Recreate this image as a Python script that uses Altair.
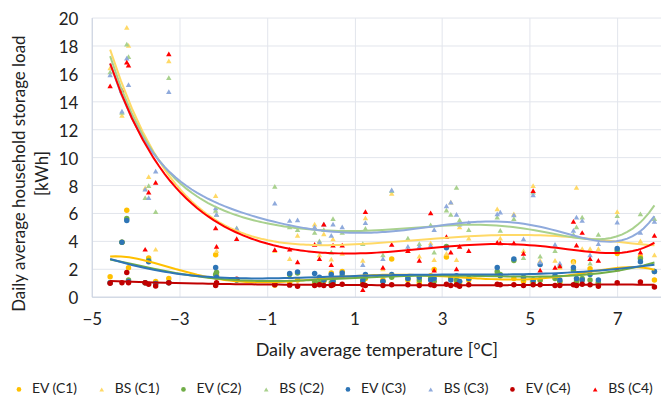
import altair as alt
import pandas as pd

# Daily average temperature of each observed day [°C]
temps = [-4.58, -4.31, -4.20, -4.16, -3.78, -3.70, -3.54, -3.24, -2.17, -2.15,
         -1.69, -0.82, -0.48, -0.30, 0.09, 0.20, 0.30, 0.47, 0.51, 0.72,
         1.19, 1.25, 1.65, 1.85, 2.22, 2.48, 2.74, 2.82, 3.10, 3.20,
         3.33, 3.40, 3.61, 4.26, 4.33, 4.64, 4.86, 5.08, 5.24, 5.58,
         5.69, 6.00, 6.07, 6.20, 6.38, 6.57, 7.00, 7.53, 7.85]

ev_c1 = [1.43, 3.9, 6.2, 2.07, 1.0, 2.78, 1.1, 1.3, 3.0, 1.5,
         1.2, 0.83, 1.0, 1.2, 1.0, 0.9, 1.1, 1.7, 1.0, 1.8,
         1.0, 1.3, 1.2, 2.7, 1.2, 1.0, 1.5, 1.95, 2.85, 1.3,
         1.1, 1.0, 1.2, 1.6, 1.5, 1.3, 1.1, 1.0, 1.2, 1.4,
         1.0, 2.5, 1.0, 1.2, 2.0, 1.0, 3.1, 2.85, 1.2]
bs_c1 = [16.4, 13.0, 19.3, 18.0, 7.8, 8.6, 3.4, 16.9, 7.24, 3.3,
         4.8, 3.3, 2.73, 4.4, 5.2, 3.0, 4.5, 2.7, 4.15, 3.1,
         2.6, 5.65, 2.0, 7.4, 3.3, 2.9, 3.85, 2.66, 3.1, 6.77,
         2.66, 5.0, 4.2, 6.3, 4.2, 5.94, 3.3, 7.96, 2.6, 2.6,
         2.1, 2.5, 7.84, 3.45, 3.45, 3.45, 6.1, 4.0, 3.0]
ev_c2 = [1.0, 3.9, 5.6, 1.19, 1.0, 2.6, 0.95, 1.0, 1.6, 1.75,
         1.2, 0.9, 1.6, 1.7, 1.1, 1.0, 1.2, 1.0, 1.2, 1.5,
         1.1, 1.4, 1.1, 1.4, 1.3, 1.2, 1.3, 1.1, 3.6, 1.4,
         1.2, 1.1, 1.3, 1.8, 1.6, 2.6, 1.3, 1.1, 1.2, 1.3,
         1.1, 1.9, 1.1, 1.3, 1.2, 1.0, 3.3, 2.73, 1.8]
bs_c2 = [16.1, 13.2, 18.1, 17.2, 7.1, 7.96, 6.1, 15.7, 6.18, 5.9,
         4.94, 7.9, 5.0, 4.8, 4.6, 4.0, 4.8, 3.2, 5.6, 4.6,
         3.8, 4.9, 3.0, 7.6, 4.2, 3.8, 5.15, 3.2, 6.2, 5.9,
         7.84, 5.5, 4.8, 5.7, 4.75, 5.6, 2.8, 7.5, 2.9, 3.3,
         2.3, 4.47, 5.0, 5.7, 2.4, 4.47, 5.8, 5.94, 5.6]
ev_c3 = [1.0, 3.9, 5.46, 1.1, 1.0, 2.5, 0.95, 1.0, 2.1, 1.4,
         1.2, 1.0, 1.66, 1.78, 1.66, 1.4, 1.2, 1.6, 1.1, 1.7,
         1.2, 1.6, 1.1, 1.6, 1.3, 1.4, 1.2, 1.3, 3.5, 1.2,
         1.5, 1.1, 1.3, 2.1, 1.5, 2.7, 1.4, 1.2, 2.3, 1.5,
         1.2, 2.1, 1.3, 1.2, 1.6, 1.2, 3.45, 2.5, 1.8]
bs_c3 = [15.9, 13.3, 17.1, 15.2, 7.7, 7.1, 9.0, 14.7, 6.37, 5.9,
         4.9, 6.7, 5.46, 5.5, 5.0, 3.9, 5.2, 4.4, 5.2, 5.0,
         2.3, 5.3, 2.73, 7.65, 3.6, 3.6, 3.7, 4.8, 6.5, 6.77,
         5.9, 5.2, 5.3, 5.94, 6.06, 5.87, 4.15, 7.3, 2.5, 3.75,
         2.4, 4.75, 5.7, 5.46, 3.0, 3.8, 5.34, 4.6, 5.4]
ev_c4 = [0.97, 1.0, 1.73, 1.0, 1.0, 0.9, 0.76, 1.0, 0.8, 1.0,
         1.25, 0.85, 0.83, 0.75, 0.8, 0.85, 0.8, 0.8, 0.85, 0.9,
         0.85, 0.8, 0.8, 0.85, 0.85, 0.8, 0.85, 0.8, 0.9, 0.8,
         0.85, 0.75, 0.85, 0.9, 0.85, 0.85, 0.8, 0.85, 0.85, 0.8,
         0.8, 0.85, 0.8, 0.9, 0.85, 0.75, 1.0, 1.05, 0.7]
bs_c4 = [15.1, 14.8, 16.8, 16.6, 3.4, 7.5, 8.2, 17.4, 4.94, 3.6,
         4.16, 3.37, 3.4, 2.5, 3.75, 2.73, 5.2, 2.3, 3.7, 3.7,
         0.5, 6.1, 2.1, 3.75, 3.3, 2.6, 6.0, 1.9, 4.3, 3.2,
         2.0, 3.6, 3.3, 3.9, 3.85, 3.85, 3.1, 7.6, 1.9, 2.1,
         2.2, 5.4, 3.7, 4.6, 2.73, 2.6, 2.0, 3.2, 4.4]

series_names = ["EV (C1)", "BS (C1)", "EV (C2)", "BS (C2)",
                "EV (C3)", "BS (C3)", "EV (C4)", "BS (C4)"]
series_values = [ev_c1, bs_c1, ev_c2, bs_c2, ev_c3, bs_c3, ev_c4, bs_c4]
colors = ["#FFC000", "#FFD966", "#70AD47", "#A9D18E",
          "#2E75B6", "#8FAADC", "#C00000", "#FF0000"]
shapes = ["circle", "triangle-up"] * 4
x_ticks = [-5, -3, -1, 1, 3, 5, 7]
y_ticks = [0, 2, 4, 6, 8, 10, 12, 14, 16, 18, 20]

rows = []
for name, vals in zip(series_names, series_values):
    for t, v in zip(temps, vals):
        rows.append({"t": t, "v": v, "series": name})
df = pd.DataFrame(rows)

FONT = "Lato"

x_enc = alt.X("t:Q",
              scale=alt.Scale(domain=[-5, 8], nice=False, zero=False),
              axis=alt.Axis(values=x_ticks,
                            title="Daily average temperature [°C]",
                            labelPadding=15, titlePadding=14,
                            labelFlush=False, titleFontSize=18))
y_enc = alt.Y("v:Q",
              scale=alt.Scale(domain=[0, 20], nice=False),
              axis=alt.Axis(values=y_ticks,
                            title=["Daily average household storage load", "[kWh]"],
                            labelPadding=14, labelOverlap=False, labelOffset=2,
                            titleY=156, titleX=-63,
                            titleLineHeight=23, titleFontSize=17))

color_scale = alt.Scale(domain=series_names, range=colors)
shape_scale = alt.Scale(domain=series_names, range=shapes)

points = alt.Chart(df).mark_point(filled=True, size=30, opacity=1).encode(
    x=x_enc,
    y=y_enc,
    color=alt.Color("series:N", scale=color_scale, sort=series_names,
                    legend=alt.Legend(title=None)),
    shape=alt.Shape("series:N", scale=shape_scale, sort=series_names,
                    legend=alt.Legend(title=None)),
)

lines = alt.Chart(df).transform_regression(
    "t", "v", groupby=["series"], method="poly", order=6
).mark_line(strokeWidth=2).encode(
    x=x_enc,
    y=y_enc,
    color=alt.Color("series:N", scale=color_scale, sort=series_names, legend=None),
)

chart = alt.layer(points, lines).properties(
    width=571,
    height=280,
    autosize=alt.AutoSizeParams(type="none"),
    padding={"left": 84, "top": 9, "right": 0, "bottom": 100},
).configure_view(stroke=None).configure_axis(
    domainColor="#C9D1E0",
    gridColor="#E2E5EC",
    ticks=False,
    labelFont=FONT,
    labelFontSize=17,
    labelColor="#222222",
    titleFont=FONT,
    titleFontWeight="normal",
    titleColor="#222222",
).configure_legend(
    orient="none",
    legendX=-80,
    legendY=366,
    direction="horizontal",
    columns=8,
    symbolSize=22,
    symbolStrokeWidth=0,
    labelFont=FONT,
    labelFontSize=14,
    labelColor="#222222",
    labelOffset=6,
    columnPadding=17,
)

chart.save("out.html", embed_options={"renderer": "svg", "actions": False})
